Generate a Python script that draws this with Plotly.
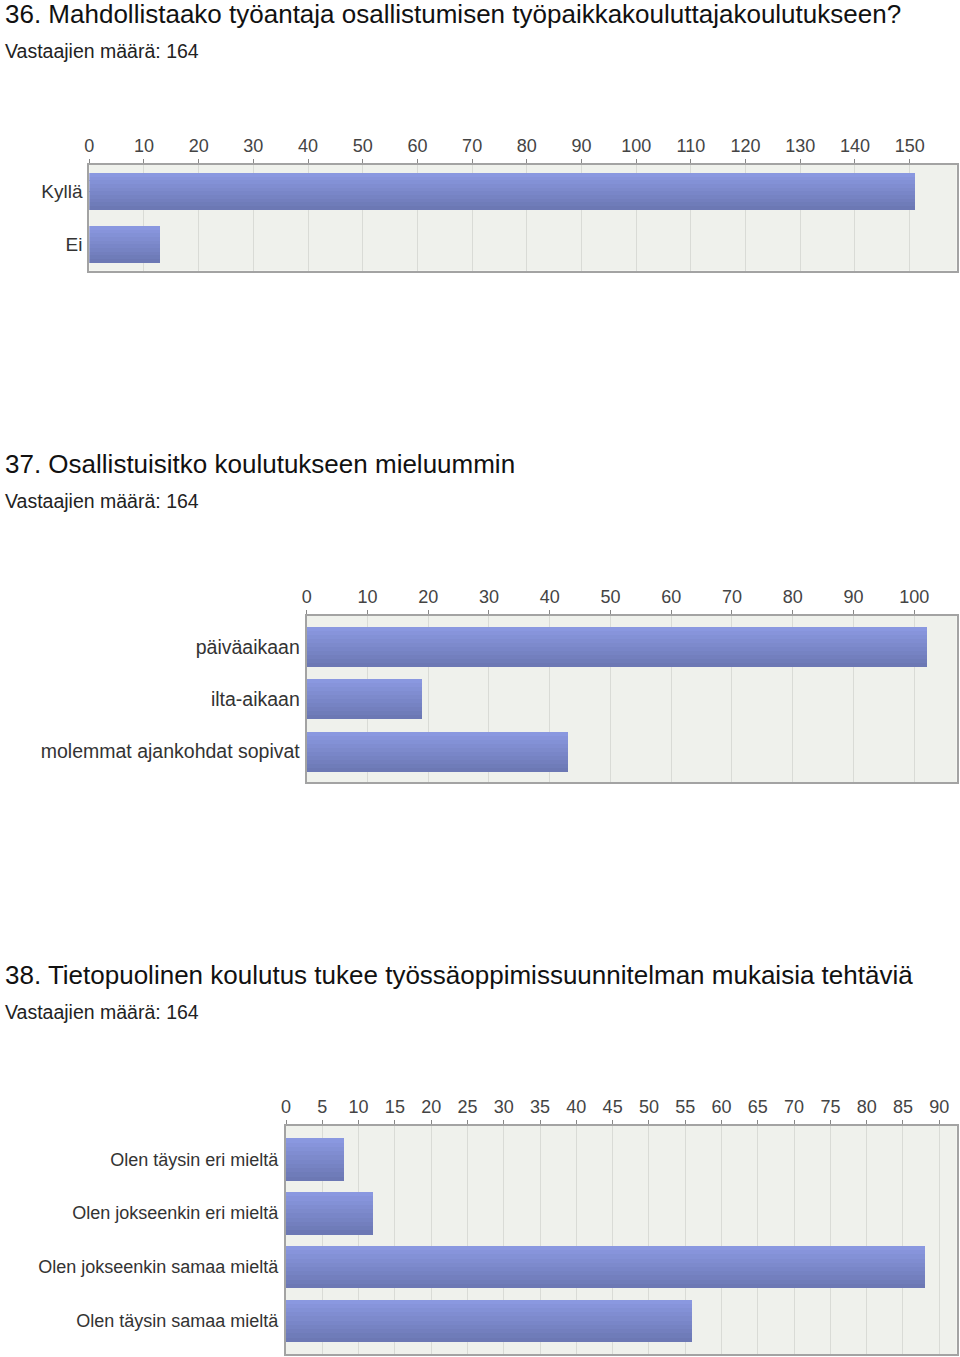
import plotly.graph_objects as go

# ---- data ----
q36_title = "36. Mahdollistaako työantaja osallistumisen työpaikkakouluttajakoulutukseen?"
q36_labels = ["Kyllä", "Ei"]
q36_values = [151, 13]

q37_title = "37. Osallistuisitko koulutukseen mieluummin"
q37_labels = ["päiväaikaan", "ilta-aikaan", "molemmat ajankohdat sopivat"]
q37_values = [102, 19, 43]

q38_title = "38. Tietopuolinen koulutus tukee työssäoppimissuunnitelman mukaisia tehtäviä"
q38_labels = ["Olen täysin eri mieltä", "Olen jokseenkin eri mieltä",
              "Olen jokseenkin samaa mieltä", "Olen täysin samaa mieltä"]
q38_values = [8, 12, 88, 56]

respondents_text = "Vastaajien määrä: 164"

# ---- layout geometry (pixels) ----
W, H = 960, 1357
FONT = "Liberation Sans, Arial, sans-serif"

charts = [
    dict(title=q36_title, labels=q36_labels, values=q36_values, title_y=14, sub_y=51,
         left=89.3, top=165.0, bottom=270.7, xmax=158.6, dtick=10, thick=0.693, pad=0.0,
         lab_size=19, standoff=1),
    dict(title=q37_title, labels=q37_labels, values=q37_values, title_y=464, sub_y=501,
         left=306.7, top=615.7, bottom=782.3, xmax=107.0, dtick=10, thick=0.765, pad=0.093,
         lab_size=19.5, standoff=1),
    dict(title=q38_title, labels=q38_labels, values=q38_values, title_y=975, sub_y=1012,
         left=286.0, top=1125.7, bottom=1354.0, xmax=92.4, dtick=5, thick=0.788, pad=0.126,
         lab_size=18, standoff=2),
]
RIGHT = 956.7

def lerp(c1, c2, t):
    return "#%02x%02x%02x" % tuple(round(a + (b - a) * t) for a, b in zip(c1, c2))

TOP_C = (0x8a, 0x98, 0xe0)
BOT_C = (0x6c, 0x78, 0xb4)
NSTRIP = 10

fig = go.Figure()
annotations = []
layout_axes = {}

for i, c in enumerate(charts, start=1):
    xa = "x" if i == 1 else f"x{i}"
    ya = "y" if i == 1 else f"y{i}"
    sw = c["thick"] / NSTRIP
    for s in range(NSTRIP):
        fig.add_trace(go.Bar(
            x=c["values"], y=c["labels"], orientation="h",
            xaxis=xa, yaxis=ya,
            width=sw * 1.02, offset=-c["thick"] / 2 + s * sw,
            marker=dict(color=lerp(TOP_C, BOT_C, s / (NSTRIP - 1)), line=dict(width=0)),
            showlegend=False, hoverinfo="x+y",
        ))
    xkey = "xaxis" if i == 1 else f"xaxis{i}"
    ykey = "yaxis" if i == 1 else f"yaxis{i}"
    n = len(c["labels"])
    layout_axes[xkey] = dict(
        domain=[c["left"] / W, RIGHT / W], anchor=ya, side="top",
        range=[0, c["xmax"]], dtick=c["dtick"], tick0=0,
        showgrid=True, gridcolor="#d9dbd6", gridwidth=1,
        showline=True, linecolor="#a3a3a3", linewidth=2, mirror=True,
        ticks="outside", ticklen=4, tickcolor="#888888", tickwidth=1,
        tickfont=dict(family=FONT, size=18, color="#444444"),
        zeroline=False, automargin=False, fixedrange=True,
    )
    layout_axes[ykey] = dict(
        domain=[1 - c["bottom"] / H, 1 - c["top"] / H], anchor=xa,
        type="category",
        categoryorder="array", categoryarray=c["labels"],
        range=[n - 0.5 + c["pad"], -0.5 - c["pad"]],
        showline=True, linecolor="#a3a3a3", linewidth=2, mirror=True,
        ticks="", showgrid=False, ticklabelstandoff=c["standoff"],
        tickfont=dict(family=FONT, size=c["lab_size"], color="#333333"),
        automargin=False, fixedrange=True,
    )
    annotations.append(dict(
        text=c["title"], xref="paper", yref="paper", x=3 / W, y=1 - c["title_y"] / H,
        xanchor="left", yanchor="middle", showarrow=False,
        font=dict(family=FONT, size=26, color="#111111"),
    ))
    annotations.append(dict(
        text=respondents_text, xref="paper", yref="paper", x=3 / W, y=1 - c["sub_y"] / H,
        xanchor="left", yanchor="middle", showarrow=False,
        font=dict(family=FONT, size=19.5, color="#222222"),
    ))

fig.update_layout(
    width=W, height=H,
    margin=dict(l=0, r=0, t=0, b=0),
    paper_bgcolor="white", plot_bgcolor="#eff1ec",
    barmode="overlay", bargap=0,
    annotations=annotations,
    font=dict(family=FONT),
    **layout_axes,
)

fig.write_html("out.html", config={"displayModeBar": False})
